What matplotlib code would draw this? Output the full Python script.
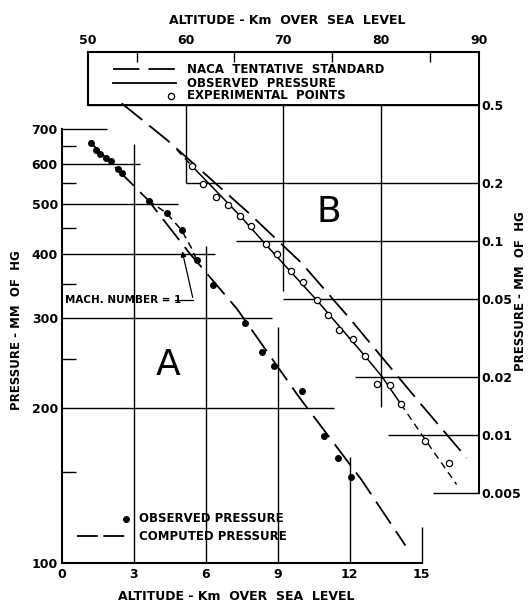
#### Pressure vs altitude, rocket soundings (A: low, B: high) ####

import matplotlib
matplotlib.use("Agg")
import matplotlib.pyplot as plt
from matplotlib.ticker import FixedLocator, NullLocator, FixedFormatter

plt.rcParams['font.family'] = ['DejaVu Sans']
plt.rcParams['font.weight'] = 'bold'
plt.rcParams['lines.scale_dashes'] = False

# Panel A : altitude (km) / pressure (mm Hg)
obs_a_km = [1.21, 1.41, 1.59, 1.84, 2.04, 2.34, 2.50, 3.63, 4.38, 4.99, 5.62, 6.31,
            7.63, 8.36, 8.85, 10.01, 10.93, 11.53, 12.04]
obs_a_p = [658, 637, 626, 615, 607, 585, 575, 507, 480, 445, 389, 348,
           294, 257, 242, 216, 177, 160, 147]

comp_a_km = [1.17, 3.60, 5.27, 7.29, 9.87, 12.5, 14.33]
comp_a_p = [661, 509, 404, 313, 211, 145, 108]

# observed curve bending away near mach 1
bulge_a_km = [3.60, 4.37, 4.99, 5.41, 5.62]
bulge_a_p = [509, 480, 445, 410, 389]

# Panel B : altitude (km) / pressure (mm Hg)
exp_b_km = [60.6, 61.8, 63.1, 64.3, 65.6, 66.7, 68.2, 69.4, 70.8, 72.0,
            73.4, 74.6, 75.7, 77.1, 78.4, 79.6, 80.9, 82.1, 84.5, 87.0]
exp_b_p = [0.245, 0.196, 0.168, 0.154, 0.1345, 0.1195, 0.096, 0.0855, 0.070, 0.0617,
           0.0497, 0.0413, 0.0349, 0.0311, 0.0254, 0.0183, 0.0181, 0.0144, 0.0093, 0.0072]

obs_b_head_km = [59.1, 60.6]
obs_b_head_p = [0.296, 0.245]
obs_b_km = [60.6, 65.6, 68.2, 73.4, 78.4, 80.1, 82.05]
obs_b_p = [0.245, 0.1345, 0.096, 0.0497, 0.0254, 0.020, 0.0144]
obs_b_tail_km = [82.05, 84.5, 87.75]
obs_b_tail_p = [0.0144, 0.0095, 0.00555]

naca_b_km = [53.45, 58.06, 66.42, 71.88, 76.83, 84.0, 88.78]
naca_b_p = [0.513, 0.333, 0.140, 0.0769, 0.0397, 0.0146, 0.0076]

# tick values
a_xticks = [0, 3, 6, 9, 12, 15]
a_yticks = [100, 200, 300, 400, 500, 600, 700]
a_yminor = [150, 250, 350, 450, 550, 650]
b_xticks = [50, 60, 70, 80, 90]
b_xminor = [55, 65, 75, 85]
b_yticks = [0.5, 0.2, 0.1, 0.05, 0.02, 0.01, 0.005]
b_ylabels = ['0.5', '0.2', '0.1', '0.05', '0.02', '0.01', '0.005']

# partial grid lines, drawn like the hand-ruled original
a_hgrid_p = [700, 600, 500, 400, 300, 200]
a_hgrid_end = [1.86, 3.25, 4.85, 6.38, 8.75, 11.36]
a_vgrid_km = [3, 6, 9, 12, 15]
a_vgrid_top = [656, 415, 288, 161, 117.5]
b_hgrid_p = [0.5, 0.2, 0.1, 0.05, 0.02, 0.01, 0.005]
b_hgrid_start = [50, 60, 65.2, 70.0, 77.34, 80.75, 85.3]
b_vgrid_km = [60, 70, 80]
b_vgrid_bottom = [0.2, 0.055, 0.014]

W, H = 532, 602
fig = plt.figure(figsize=(W / 100, H / 100), dpi=100)
fig.patch.set_facecolor('white')

def box(x0, x1, y0, y1):
    # pixel box -> figure fraction
    return [x0 / W, 1 - y1 / H, (x1 - x0) / W, (y1 - y0) / H]

k = 'black'
lw_line = 1.3
dash_long = (0, (19, 6.5))
dash_short = (0, (5, 3.5))

axa = fig.add_axes(box(62, 421.5, 129.3, 562.7))
axb = fig.add_axes(box(88, 478.6, 51.6, 493.3))
axb.patch.set_alpha(0)

# ---- A ----
axa.set_xlim(0, 15)
axa.set_yscale('log')
axa.set_ylim(100, 700)
for s in ['top', 'right']:
    axa.spines[s].set_visible(False)
for s in ['left', 'bottom']:
    axa.spines[s].set_linewidth(1.5)
axa.xaxis.set_major_locator(FixedLocator(a_xticks))
axa.xaxis.set_major_formatter(FixedFormatter([str(v) for v in a_xticks]))
axa.yaxis.set_major_locator(FixedLocator(a_yticks))
axa.yaxis.set_major_formatter(FixedFormatter([str(v) for v in a_yticks]))
axa.yaxis.set_minor_locator(FixedLocator(a_yminor))
axa.yaxis.set_minor_formatter(FixedFormatter([''] * len(a_yminor)))
axa.xaxis.set_minor_locator(NullLocator())
axa.tick_params(which='major', length=0, labelsize=9, pad=4)
axa.tick_params(axis='y', which='major', pad=3)
axa.tick_params(axis='y', which='minor', direction='in', length=10, width=1.0)

axa.hlines(a_hgrid_p, 0, a_hgrid_end, color=k, lw=1.0, clip_on=False)
axa.vlines(a_vgrid_km, 100, a_vgrid_top, color=k, lw=1.0, clip_on=False)

axa.plot(comp_a_km, comp_a_p, color=k, lw=lw_line, ls=dash_long)
axa.plot(bulge_a_km, bulge_a_p, color=k, lw=1.1, ls=dash_short)
axa.plot(obs_a_km, obs_a_p, 'o', color=k, ms=4)

axa.text(0.13, 325, 'MACH. NUMBER = 1', fontsize=7.5, va='center', ha='left')
axa.plot([4.7, 5.48], [325, 325], color=k, lw=0.9)
axa.annotate('', xy=(4.99, 410), xytext=(5.48, 325),
             arrowprops=dict(arrowstyle='-|>', color=k, lw=0.9, mutation_scale=8))

axa.text(4.42, 243, 'A', fontsize=26, fontweight='normal', ha='center', va='center')

# legend A
axa.plot([2.66], [121.7], 'o', color=k, ms=4)
axa.text(3.21, 121.7, 'OBSERVED PRESSURE', fontsize=8.5, va='center')
axa.plot([0.61, 2.70], [112.7, 112.7], color=k, lw=lw_line, ls=(0, (15, 4)))
axa.text(3.21, 112.7, 'COMPUTED PRESSURE', fontsize=8.5, va='center')

# ---- B ----
axb.set_xlim(50, 90)
axb.set_yscale('log')
axb.set_ylim(0.005, 0.948)
axb.spines['bottom'].set_visible(False)
axb.spines['left'].set_bounds(0.5, 0.948)
for s in ['top', 'right', 'left']:
    axb.spines[s].set_linewidth(1.5)
axb.xaxis.tick_top()
axb.yaxis.tick_right()
axb.xaxis.set_major_locator(FixedLocator(b_xticks))
axb.xaxis.set_major_formatter(FixedFormatter([str(v) for v in b_xticks]))
axb.xaxis.set_minor_locator(FixedLocator(b_xminor))
axb.yaxis.set_major_locator(FixedLocator(b_yticks))
axb.yaxis.set_major_formatter(FixedFormatter(b_ylabels))
axb.yaxis.set_minor_locator(NullLocator())
axb.tick_params(which='major', length=0, labelsize=9)
axb.tick_params(axis='x', which='major', pad=3)
axb.tick_params(axis='y', which='major', pad=2)
axb.tick_params(axis='x', which='minor', direction='in', length=7, width=1.0)

axb.hlines(b_hgrid_p, b_hgrid_start, 90, color=k, lw=1.0, clip_on=False)
axb.hlines([0.5], 50, 90, color=k, lw=1.4, clip_on=False)
axb.vlines(b_vgrid_km, b_vgrid_bottom, 0.5, color=k, lw=1.0)

axb.plot(naca_b_km, naca_b_p, color=k, lw=lw_line, ls=dash_long)
axb.plot(obs_b_head_km, obs_b_head_p, color=k, lw=1.1, ls=dash_short)
axb.plot(obs_b_km, obs_b_p, color=k, lw=1.1)
axb.plot(obs_b_tail_km, obs_b_tail_p, color=k, lw=1.0, ls=dash_short)
axb.plot(exp_b_km, exp_b_p, 'o', mfc='white', mec=k, mew=0.9, ms=4.5)

axb.text(74.7, 0.1417, 'B', fontsize=26, fontweight='normal', ha='center', va='center')

# legend B (inside the top box)
axb.plot([52.56, 59.01], [0.771, 0.771], color=k, lw=lw_line, ls=(0, (19, 6.5)))
axb.text(60.17, 0.771, 'NACA  TENTATIVE  STANDARD', fontsize=8.5, va='center')
axb.plot([52.56, 59.01], [0.651, 0.651], color=k, lw=lw_line)
axb.text(60.17, 0.651, 'OBSERVED  PRESSURE', fontsize=8.5, va='center')
axb.plot([58.47], [0.561], 'o', mfc='white', mec=k, mew=0.9, ms=4.5)
axb.text(60.17, 0.561, 'EXPERIMENTAL  POINTS', fontsize=8.5, va='center')

# axis titles
fig.text(287 / W, 1 - 20 / H, 'ALTITUDE - Km  OVER  SEA  LEVEL', fontsize=9,
         ha='center', va='center')
fig.text(236.5 / W, 1 - 596 / H, 'ALTITUDE - Km  OVER  SEA  LEVEL', fontsize=9,
         ha='center', va='center')
fig.text(17 / W, 1 - 330 / H, 'PRESSURE - MM  OF  HG', fontsize=8.5,
         rotation=90, ha='center', va='center')
fig.text(521 / W, 1 - 291.5 / H, 'PRESSURE - MM  OF  HG', fontsize=8.5,
         rotation=90, ha='center', va='center')

fig.savefig('out.png', dpi=100, facecolor='white')
